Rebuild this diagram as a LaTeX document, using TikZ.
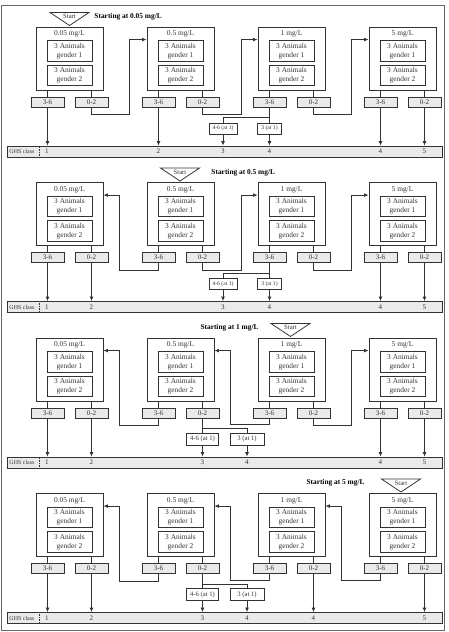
\documentclass[tikz,border=0pt]{standalone}
\usepackage{fontspec}
\setmainfont{Liberation Serif}
\usetikzlibrary{arrows.meta, calc}
\definecolor{lineink}{HTML}{333333}
\definecolor{cellfill}{HTML}{EAEAEA}
\newcommand{\dosepanel}{%
  \foreach \c/\dose [count=\i] in {69.5/0.05, 180.5/0.5, 291.5/1, 402.5/5} {
    \node[dosebox] (b\i) at (\c,58.5) {};
    \node[doselbl] (d\i) at (\c,34) {\dose\ mg/L};
    \node[animbox] (g\i a) at (\c,51) {3 Animals\\ gender 1};
    \node[animbox] (g\i b) at (\c,75.5) {3 Animals\\ gender 2};
    \node[resbox] (p\i) at ({\c-22},102) {3-6};
    \node[resbox] (n\i) at ({\c+22},102) {0-2};
    \draw[link] (p\i.north) -- (p\i.north |- b\i.south);
    \draw[link] (n\i.north) -- (n\i.north |- b\i.south);
    \coordinate (w\i) at ($(b\i.north west)+(0,13)$);
    \coordinate (e\i) at ($(b\i.north east)+(0,13)$);
  }
  \node[ghsbar] (ghs) at (224.5,151.5) {};
  \node[ghslbl] (ghsname) at (22,151.5) {GHS class};
  \coordinate (sep) at (39,151.5);
  \draw[classsep] (ghs.north -| sep) -- (ghs.south -| sep);
}
\newcommand{\startmark}[1]{%
  \draw[startflag] ({#1-19.5},12.5) -- ({#1+19.5},12.5) -- (#1,25.5) -- cycle;
  \node[startlbl] (start) at (#1,16.8) {Start};
}
\newcommand{\ghsnums}[1]{%
  \foreach \x/\v [count=\j] in {#1} {
    \node[ghsnum] (k\j) at (\x,151.5) {\v};
  }
}

\begin{document}
\begin{tikzpicture}[
  x=0.5mm, y=-0.5mm,
  dosebox/.style={draw=lineink, line width=1.2pt, minimum width=33.5mm, minimum height=31.5mm, inner sep=0pt},
  doselbl/.style={font=\fontsize{10.5}{12}\selectfont, text=lineink},
  animbox/.style={draw=lineink, line width=1.2pt, minimum width=22.5mm, minimum height=10.25mm, inner sep=0pt, align=center, font=\fontsize{10.5}{12.5}\selectfont, text=lineink},
  resbox/.style={draw=lineink, fill=cellfill, line width=1.1pt, minimum width=16.5mm, minimum height=5mm, inner sep=0pt, font=\fontsize{10}{11}\selectfont, text=lineink},
  upbox/.style={draw=lineink, fill=white, line width=1pt, inner sep=0pt, text=lineink},
  upsmall/.style={upbox, minimum height=5.5mm, font=\fontsize{8}{9}\selectfont},
  uplarge/.style={upbox, minimum height=6mm, font=\fontsize{9.5}{11}\selectfont},
  ghsbar/.style={draw=lineink, fill=cellfill, line width=1.1pt, minimum width=217.5mm, minimum height=5.5mm, inner sep=0pt},
  ghsnum/.style={font=\fontsize{10}{11}\selectfont, text=lineink},
  ghslbl/.style={font=\fontsize{8.5}{10}\selectfont, text=lineink},
  classsep/.style={lineink, line width=1.4pt, dash pattern=on 1.3pt off 1pt},
  link/.style={draw=lineink, line width=1.1pt},
  arr/.style={link, -{Latex[length=2.2mm, width=1.9mm]}},
  startflag/.style={draw=lineink, fill=white, line width=1.1pt},
  startlbl/.style={font=\fontsize{9.5}{11}\selectfont, text=lineink},
  title/.style={font=\bfseries\fontsize{10.5}{12}\selectfont},
]
\path[use as bounding box] (0,0) rectangle (449,632);
\draw[lineink!75, line width=1pt] (1.5,5) rectangle (444,630);

% Starting at 0.05 mg/L
\begin{scope}
  \dosepanel
  \startmark{69.5}
  \node[title, anchor=west] (t1) at (92,16.5) {Starting at 0.05 mg/L};
  \ghsnums{47/1, 158.5/2, 223/3, 269.5/4, 380.5/4, 424.5/5}
  \node[upsmall, minimum width=14mm] (up3) at (223,128.5) {4-6 (at 1)};
  \node[upsmall, minimum width=12mm] (up4) at (269.5,128.5) {3 (at 1)};
  \foreach \r in {p1,p2,p4,n4,up3,up4}
    \draw[arr] (\r.south) -- (\r.south |- ghs.north);
  \draw[arr] (n1.south) -- ++(0,7) -| ($(w2)+(-17,0)$) -- (w2);
  \draw[arr] (n2.south) -- ++(0,7) -| ($(w3)+(-16,0)$) -- (w3);
  \draw[arr] (n3.south) -- ++(0,7) -| ($(w4)+(-17,0)$) -- (w4);
  \draw[link] (p3.south) -- (up4.north);
  \draw[link] ($(p3.south)+(0,10)$) -| (up3.north);
\end{scope}

% Starting at 0.5 mg/L
\begin{scope}[shift={(0,155.5)}]
  \dosepanel
  \startmark{180}
  \node[title, anchor=west] (t2) at (209,17.5) {Starting at 0.5 mg/L};
  \ghsnums{47/1, 91.5/2, 223/3, 269.5/4, 380.5/4, 424.5/5}
  \node[upsmall, minimum width=14mm] (up3) at (223,128.5) {4-6 (at 1)};
  \node[upsmall, minimum width=12mm] (up4) at (269.5,128.5) {3 (at 1)};
  \foreach \r in {p1,n1,p4,n4,up3,up4}
    \draw[arr] (\r.south) -- (\r.south |- ghs.north);
  \draw[arr] (p2.south) -- ++(0,7) -| ($(e1)+(16,0)$) -- (e1);
  \draw[arr] (n2.south) -- ++(0,7) -| ($(w3)+(-16,0)$) -- (w3);
  \draw[arr] (n3.south) -- ++(0,7) -| ($(w4)+(-17,0)$) -- (w4);
  \draw[link] (p3.south) -- (up4.north);
  \draw[link] ($(p3.south)+(0,10)$) -| (up3.north);
\end{scope}

% Starting at 1 mg/L
\begin{scope}[shift={(0,311)}]
  \dosepanel
  \startmark{290.5}
  \node[title, anchor=east] (t3) at (261,17) {Starting at 1 mg/L};
  \ghsnums{47/1, 91.5/2, 202.5/3, 247/4, 380.5/4, 424.5/5}
  \node[uplarge, minimum width=16mm] (up3) at (202.5,128) {4-6 (at 1)};
  \node[uplarge, minimum width=17mm] (up4) at (247,128) {3 (at 1)};
  \foreach \r in {p1,n1,p4,n4,up3,up4}
    \draw[arr] (\r.south) -- (\r.south |- ghs.north);
  \draw[arr] (p2.south) -- ++(0,7) -| ($(e1)+(16,0)$) -- (e1);
  \draw[arr] (p3.south) -- ++(0,6) -| ($(e2)+(16,0)$) -- (e2);
  \draw[arr] (n3.south) -- ++(0,7) -| ($(w4)+(-17,0)$) -- (w4);
  \draw[link] (n2.south) -- (up3.north);
  \draw[link] ($(n2.south)+(0,10)$) -| (up4.north);
\end{scope}

% Starting at 5 mg/L
\begin{scope}[shift={(0,466.5)}]
  \dosepanel
  \startmark{401}
  \node[title, anchor=east] (t4) at (367,16.5) {Starting at 5 mg/L};
  \ghsnums{47/1, 91.5/2, 202.5/3, 247/4, 313.5/4, 424.5/5}
  \node[uplarge, minimum width=16mm] (up3) at (202.5,128) {4-6 (at 1)};
  \node[uplarge, minimum width=17mm] (up4) at (247,128) {3 (at 1)};
  \foreach \r in {p1,n1,n3,n4,up3,up4}
    \draw[arr] (\r.south) -- (\r.south |- ghs.north);
  \draw[arr] (p2.south) -- ++(0,7) -| ($(e1)+(16,0)$) -- (e1);
  \draw[arr] (p3.south) -- ++(0,6) -| ($(e2)+(16,0)$) -- (e2);
  \draw[arr] (p4.south) -- ++(0,6) -| ($(e3)+(16,0)$) -- (e3);
  \draw[link] (n2.south) -- (up3.north);
  \draw[link] ($(n2.south)+(0,10)$) -| (up4.north);
\end{scope}

\end{tikzpicture}
\end{document}
